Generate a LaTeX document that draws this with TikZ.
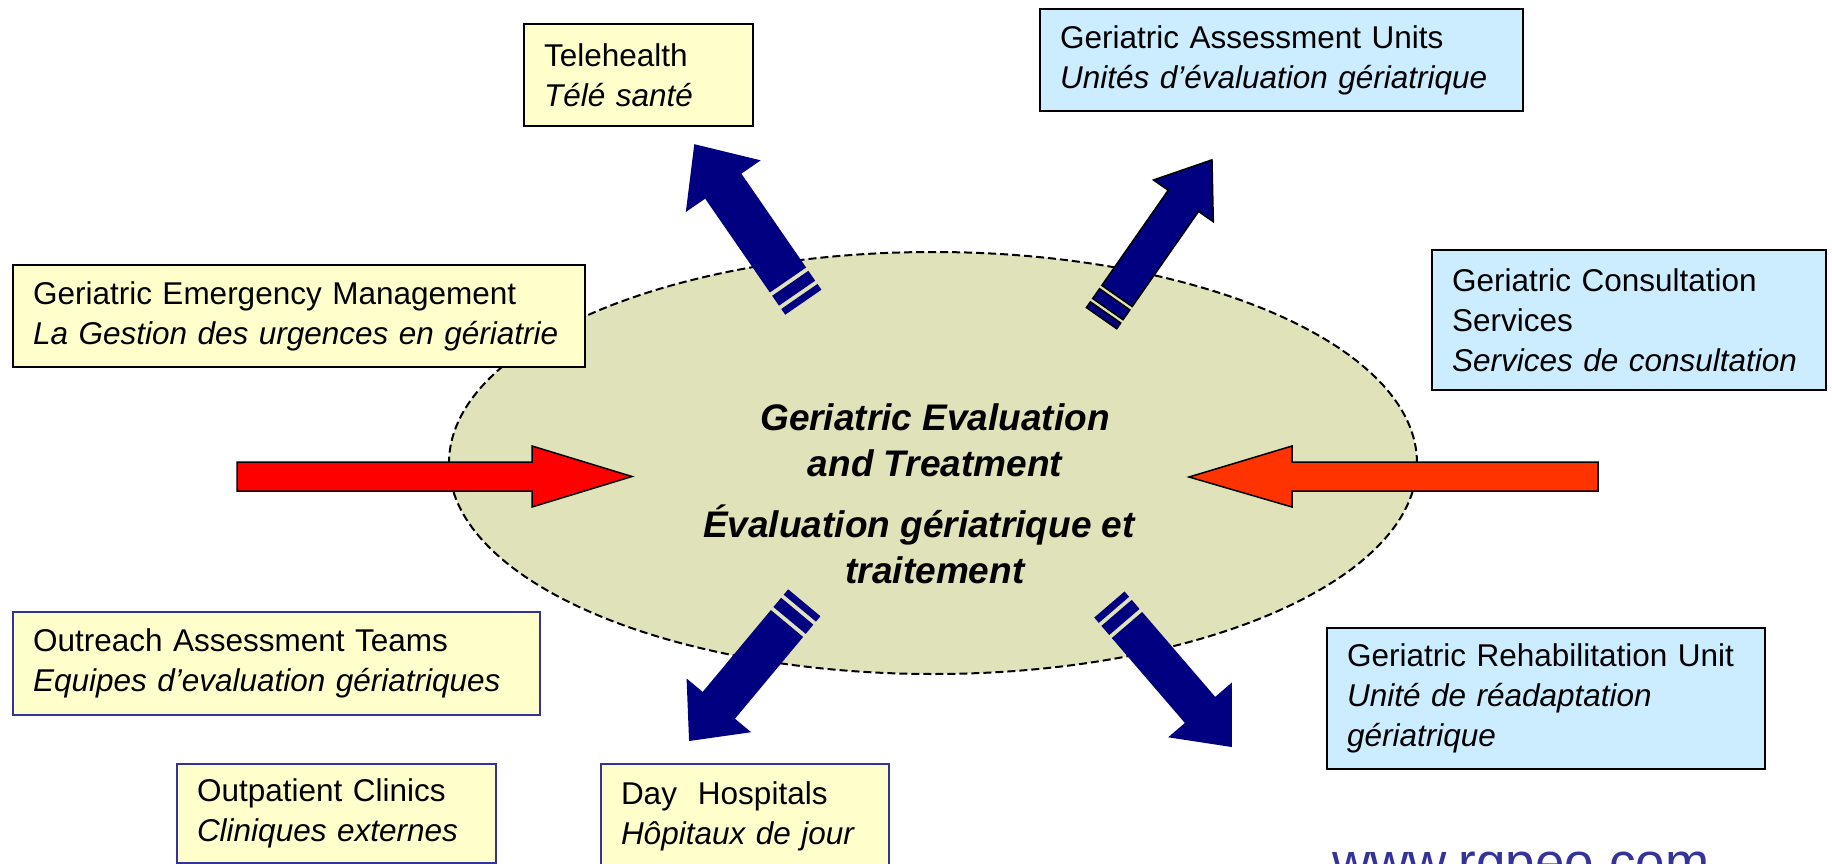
\documentclass[tikz,border=0pt]{standalone}
\usepackage{fontspec}
\setmainfont{Liberation Sans}
\usetikzlibrary{shapes.geometric}
\definecolor{boxyellow}{HTML}{FFFFCC}
\definecolor{boxblue}{HTML}{CCECFF}
\definecolor{edgeblue}{HTML}{333399}
\definecolor{navyarrow}{HTML}{000080}
\definecolor{corefill}{HTML}{E0E2BA}
\definecolor{redarrow}{HTML}{FF0000}
\definecolor{orangearrow}{HTML}{FF3300}

% #1 style, #2 #3 shaft-end centre, #4 angle, #5 length to tip, #6 shaft half width, #7 head half width, #8 head length
\newcommand{\stripedarrow}[8]{%
  \begin{scope}[shift={(#2,#3)},rotate=#4]
    \path[#1] (0,-#6) -- ({#5-#8},-#6) -- ({#5-#8},-#7) -- (#5,0) -- ({#5-#8},#7) -- ({#5-#8},#6) -- (0,#6) -- cycle;
    \path[#1] (-4,-#6) rectangle (-16,#6);
    \path[#1] (-20,-#6) rectangle (-27,#6);
  \end{scope}}

\tikzset{
  infobox/.style={line width=2pt, align=left, inner xsep=20pt, inner ysep=0pt,
    anchor=north west, font=\fontsize{31.5}{40}\selectfont},
  yellowbox/.style={infobox, fill=boxyellow, draw=black},
  yellowbluebox/.style={infobox, fill=boxyellow, draw=edgeblue},
  bluebox/.style={infobox, fill=boxblue, draw=black},
  navyplain/.style={fill=navyarrow},
  navyedged/.style={fill=navyarrow, draw=black, line width=1.5pt},
  blockarrow/.style={draw=black, line width=1.5pt},
  title/.style={align=center, font=\fontsize{37}{46}\selectfont\bfseries\itshape},
}

\begin{document}
\begin{tikzpicture}[x=1pt,y=-1pt]
\useasboundingbox (0,0) rectangle (1832,864);

% central ellipse
\node[ellipse, draw=black, fill=corefill, line width=2pt, dash pattern=on 8pt off 4pt,
      minimum width=968pt, minimum height=422pt, inner sep=0pt] (core) at (933,463) {};

\node[title] (titletext) at (935,494)
  {Geriatric Evaluation\\and Treatment\\[15pt]Évaluation gériatrique et\rule{32pt}{0pt}\\traitement};

% red arrows
\draw[blockarrow, fill=redarrow] (237,462) -- (532,462) -- (532,446) -- (632,476.5) -- (532,507) -- (532,491) -- (237,491) -- cycle;
\draw[blockarrow, fill=orangearrow] (1598,462) -- (1292,462) -- (1292,446) -- (1189,477) -- (1292,507) -- (1292,491) -- (1598,491) -- cycle;

% blue striped arrows
\stripedarrow{navyplain}{788}{280}{124.6}{165}{22}{45.5}{51}
\stripedarrow{navyedged}{1117}{296}{55.1}{166}{18.5}{36.5}{50}
\stripedarrow{navyplain}{787}{623.5}{230.2}{153}{21}{42}{46.5}
\stripedarrow{navyplain}{1127}{625}{-49.3}{161}{20}{42}{49}

% boxes
\node[yellowbox, text width=189pt, minimum height=102pt] (tele) at (523,23)
  {Telehealth\\\textit{Télé santé}};
\node[bluebox, text width=443pt, minimum height=102pt] (gau) at (1039,8)
  {Geriatric Assessment Units\\\textit{Unités d’évaluation gériatrique}};
\node[yellowbox, text width=532pt, minimum height=102pt] (gem) at (12,264)
  {Geriatric Emergency Management\\\mbox{\textit{La Gestion des urgences en gériatrie}}};
\node[bluebox, text width=354pt, minimum height=140pt] (gcs) at (1431,249)
  {Geriatric Consultation\\Services\\\mbox{\textit{Services de consultation}}};
\node[yellowbluebox, text width=487pt, minimum height=103pt] (oat) at (12,611)
  {Outreach Assessment Teams\\\textit{Equipes d’evaluation gériatriques}};
\node[yellowbluebox, text width=279pt, minimum height=99pt] (opc) at (176,763)
  {Outpatient Clinics\\\textit{Cliniques externes}};
\node[yellowbluebox, text width=248pt, minimum height=104pt] (dh) at (600,763)
  {Day\ \ Hospitals\\\textit{Hôpitaux de jour}};
\node[bluebox, text width=398pt, minimum height=141pt] (gru) at (1326,627)
  {Geriatric Rehabilitation Unit\\\textit{Unité de réadaptation}\\\textit{gériatrique}};

\node[anchor=base west, inner sep=0pt, text=edgeblue, font=\fontsize{53}{60}\selectfont] (url) at (1332,880) {www.rgpeo.com};
\end{tikzpicture}
\end{document}
